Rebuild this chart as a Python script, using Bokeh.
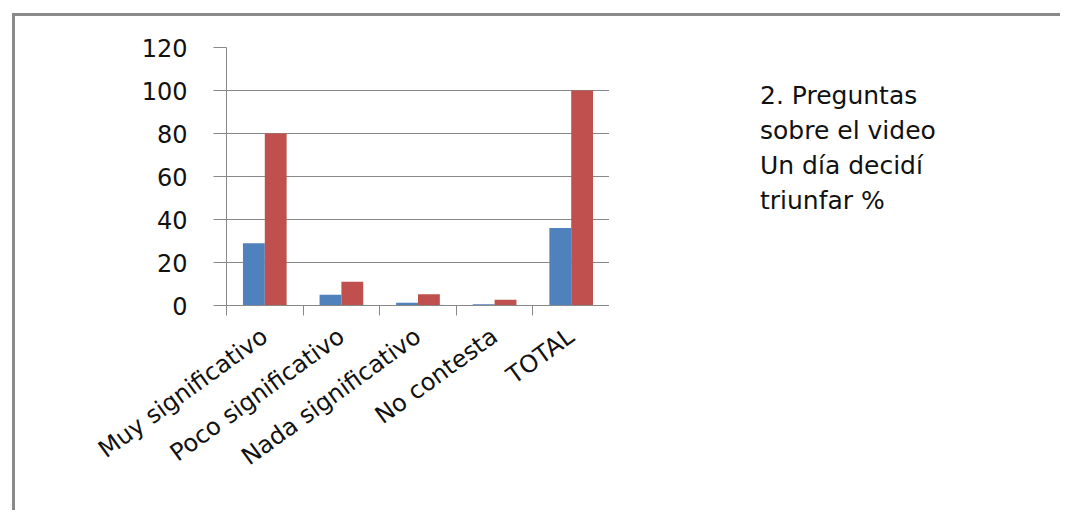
import math
import numpy as np
from bokeh.plotting import figure
from bokeh.layouts import row
from bokeh.models import Range1d, FixedTicker, Legend, LegendItem, ColumnDataSource
from bokeh.embed import file_html
from bokeh.resources import INLINE

categories = ["Muy significativo", "Poco significativo", "Nada significativo", "No contesta", "TOTAL"]
estudiantes = [29, 5, 1.3, 0.6, 36]
porcentaje = [80, 11, 5.2, 2.7, 100]
series_lines = [
    ["2. Preguntas", "sobre el video", "Un día decidí", "triunfar No.", "Estudiantes"],
    ["2. Preguntas", "sobre el video", "Un día decidí", "triunfar %"],
]
y_ticks = [0, 20, 40, 60, 80, 100, 120]

BLUE = "#4F81BD"
RED = "#C0504D"
GRID = "#888888"
FONT = "DejaVu Sans"

# ---- chart ----
p = figure(width=594, height=494, output_backend="svg", toolbar_location=None,
           x_range=Range1d(0, len(categories)), y_range=Range1d(0, 120),
           min_border_left=211, min_border_right=0, min_border_top=31, min_border_bottom=205)
p.outline_line_color = None
p.background_fill_color = "white"
p.border_fill_color = "white"

idx = np.arange(len(categories)) + 0.5
bw = 0.285
src = ColumnDataSource(dict(x1=idx - bw / 2, x2=idx + bw / 2, a=estudiantes, b=porcentaje))
p.vbar(x="x1", top="a", width=bw, source=src, fill_color=BLUE, line_color=None)
p.vbar(x="x2", top="b", width=bw, source=src, fill_color=RED, line_color=None)

p.yaxis.ticker = FixedTicker(ticks=y_ticks)
p.yaxis.axis_line_color = GRID
p.yaxis.major_tick_line_color = GRID
p.yaxis.major_tick_out = 13
p.yaxis.major_tick_in = 0
p.yaxis.minor_tick_line_color = None
p.yaxis.major_label_standoff = 26
p.yaxis.major_label_text_font = FONT
p.yaxis.major_label_text_font_size = "24px"
p.yaxis.major_label_text_color = "#111111"
p.ygrid.grid_line_color = GRID
p.ygrid.grid_line_width = 1

p.xaxis.ticker = FixedTicker(ticks=list(idx), minor_ticks=list(range(len(categories) + 1)))
p.xaxis.major_label_overrides = {float(v): c for v, c in zip(idx, categories)}
p.xaxis.axis_line_color = GRID
p.xaxis.major_tick_line_color = None
p.xaxis.minor_tick_line_color = GRID
p.xaxis.minor_tick_out = 10
p.xaxis.minor_tick_in = 0
p.xaxis.major_label_orientation = math.radians(36)
p.xaxis.major_label_standoff = 18
p.xaxis.major_label_text_font = FONT
p.xaxis.major_label_text_font_size = "24px"
p.xaxis.major_label_text_color = "#111111"
p.xgrid.grid_line_color = None

# ---- legend panel ----
p2 = figure(width=451, height=494, output_backend="svg", toolbar_location=None,
            x_range=Range1d(0, 1), y_range=Range1d(0, 1),
            x_axis_type=None, y_axis_type=None,
            min_border_left=0, min_border_right=0, min_border_top=0, min_border_bottom=0)
p2.outline_line_color = None
p2.grid.grid_line_color = None
p2.background_fill_color = "white"
p2.border_fill_color = "white"
k1 = p2.vbar(x=[], top=[], width=0.1, fill_color=BLUE, line_color=None)
k2 = p2.vbar(x=[], top=[], width=0.1, fill_color=RED, line_color=None)

items = []
for lines, rend in zip(series_lines, [k1, k2]):
    items.append(LegendItem(label=lines[0], renderers=[rend]))
    for ln in lines[1:]:
        items.append(LegendItem(label=ln, renderers=[]))
    if rend is k1:
        items.append(LegendItem(label="", renderers=[]))

legend = Legend(items=items,
                location=(108, 90), padding=0, margin=0, spacing=6,
                glyph_width=35, glyph_height=21, label_standoff=8,
                label_text_font=FONT, label_text_font_size="25px",
                label_text_line_height=1.2, label_text_color="#111111",
                border_line_color=None, background_fill_alpha=0)
p2.add_layout(legend)

page = row(p, p2, styles={"border-top": "3px solid #8a8a8a", "border-left": "3px solid #8a8a8a"})
page.margin = (13, 0, 0, 12)

open("out.html", "w").write(file_html(page, INLINE))
